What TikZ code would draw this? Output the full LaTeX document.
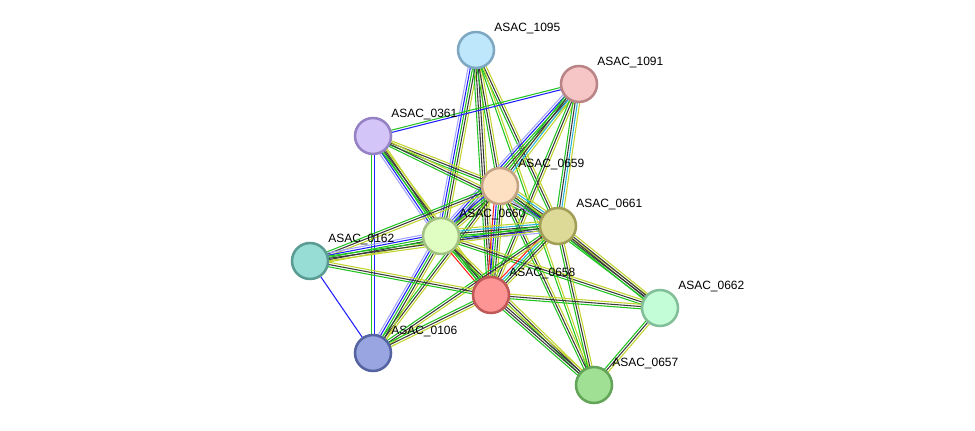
\documentclass[tikz,border=0pt]{standalone}
\usepackage{fontspec}
\setmainfont{Liberation Sans}
\usetikzlibrary{calc}

\definecolor{gn}{HTML}{22C422}
\definecolor{bk}{HTML}{3A3A3A}
\definecolor{yg}{HTML}{C2D42E}
\definecolor{bl}{HTML}{2020FF}
\definecolor{lv}{HTML}{A4A4FF}
\definecolor{rd}{HTML}{FF2020}
\definecolor{cy}{HTML}{28B4DC}

\pgfdeclarelayer{bg}
\pgfsetlayers{bg,main}

% Bundle of parallel evidence lines between two proteins
\newcommand\evlink[3]{%
	\foreach \c [count=\n] in {#3} {\xdef\nlines{\n}}%
	\foreach \c [count=\i] in {#3} {%
		\pgfmathsetmacro\off{(\i - (\nlines + 1) / 2) * 1.7}
		\draw [\c, line width = 0.8pt] ($(#1.center)!\off pt!90:(#2.center)$) -- ($(#2.center)!\off pt!-90:(#1.center)$);
	}%
}

\begin{document}
\begin{tikzpicture}[x = 0.75pt, y = -0.75pt,
	prot/.style = {circle, line width = 1.9pt, minimum size = 27pt, inner sep = 0pt},
	lab/.style = {anchor = west, inner sep = 0pt, font = \fontsize{9}{10}\selectfont}]

	\useasboundingbox (0, 0) rectangle (975, 431);

	% Proteins

	\node [prot, fill = {rgb,255:red,191;green,231;blue,251}, draw = {rgb,255:red,126;green,168;blue,194}] (p1095) at (476, 50) {};
	\node [prot, fill = {rgb,255:red,246;green,197;blue,198}, draw = {rgb,255:red,184;green,132;blue,134}] (p1091) at (579, 84) {};
	\node [prot, fill = {rgb,255:red,211;green,197;blue,247}, draw = {rgb,255:red,149;green,130;blue,197}] (p0361) at (373, 136) {};
	\node [prot, fill = {rgb,255:red,253;green,223;blue,194}, draw = {rgb,255:red,196;green,163;blue,132}] (p0659) at (500, 186) {};
	\node [prot, fill = {rgb,255:red,224;green,253;blue,194}, draw = {rgb,255:red,164;green,193;blue,132}] (p0660) at (441, 236) {};
	\node [prot, fill = {rgb,255:red,221;green,218;blue,152}, draw = {rgb,255:red,162;green,158;blue,88}] (p0661) at (558, 226) {};
	\node [prot, fill = {rgb,255:red,152;green,221;blue,213}, draw = {rgb,255:red,90;green,156;blue,148}] (p0162) at (310, 261) {};
	\node [prot, fill = {rgb,255:red,253;green,149;blue,149}, draw = {rgb,255:red,192;green,88;blue,88}] (p0658) at (491, 295) {};
	\node [prot, fill = {rgb,255:red,194;green,253;blue,216}, draw = {rgb,255:red,130;green,190;blue,152}] (p0662) at (660, 308) {};
	\node [prot, fill = {rgb,255:red,153;green,165;blue,224}, draw = {rgb,255:red,85;green,99;blue,160}] (p0106) at (373, 353) {};
	\node [prot, fill = {rgb,255:red,160;green,224;blue,149}, draw = {rgb,255:red,98;green,164;blue,88}] (p0657) at (594, 385) {};

	% Names

	\foreach \p in {1095, 1091, 0361, 0659, 0660, 0661, 0162, 0658, 0662, 0106, 0657}
		\node [lab] (t\p) at ($(p\p) + (18, -21)$) {ASAC\_\p};

	% Evidence lines

	\begin{pgfonlayer}{bg}
		\evlink{p1095}{p0660}{lv, bl, gn, bk, yg}
		\evlink{p1095}{p0658}{gn, bk, bk, yg}
		\evlink{p1095}{p0659}{gn, bk, yg}
		\evlink{p1095}{p0661}{gn, bk, yg}
		\evlink{p1095}{p0657}{gn, yg}
		\evlink{p1091}{p0361}{gn, bl}
		\evlink{p1091}{p0660}{lv, bl, gn, bk, yg}
		\evlink{p1091}{p0659}{gn, bk, cy, yg}
		\evlink{p1091}{p0658}{gn, bk, yg}
		\evlink{p1091}{p0661}{gn, bk, cy, yg}
		\evlink{p0361}{p0106}{gn, bl}
		\evlink{p0361}{p0660}{lv, bl, gn, bk, yg}
		\evlink{p0361}{p0659}{gn, bk, yg}
		\evlink{p0361}{p0661}{gn, bk, yg}
		\evlink{p0361}{p0658}{gn, bk, yg}
		\evlink{p0659}{p0660}{lv, bl, gn, bk, yg}
		\evlink{p0659}{p0661}{lv, bl, gn, bk, cy, yg}
		\evlink{p0659}{p0658}{rd, bl, gn, bk, yg}
		\evlink{p0659}{p0162}{gn, bk, yg}
		\evlink{p0659}{p0106}{gn, bk, yg}
		\evlink{p0659}{p0657}{gn, bk, yg}
		\evlink{p0659}{p0662}{gn, bk, yg}
		\evlink{p0660}{p0661}{lv, bl, gn, bk, cy, yg}
		\evlink{p0660}{p0162}{lv, bl, gn, bk, yg}
		\evlink{p0660}{p0658}{rd, gn, bk, yg}
		\evlink{p0660}{p0106}{lv, bl, gn, bk, yg}
		\evlink{p0660}{p0662}{gn, bk, yg}
		\evlink{p0660}{p0657}{gn, bk, yg}
		\evlink{p0661}{p0658}{rd, cy, gn, bk, yg}
		\evlink{p0661}{p0162}{gn, bk, yg}
		\evlink{p0661}{p0662}{gn, bk, bk, yg}
		\evlink{p0661}{p0657}{gn, bk, yg}
		\evlink{p0661}{p0106}{gn, bk, yg}
		\evlink{p0162}{p0106}{bl}
		\evlink{p0162}{p0658}{gn, bk, yg}
		\evlink{p0658}{p0106}{gn, bk, yg}
		\evlink{p0658}{p0662}{gn, bk, yg}
		\evlink{p0658}{p0657}{gn, bk, bk, yg}
		\evlink{p0662}{p0657}{gn, bk, yg}
	\end{pgfonlayer}

\end{tikzpicture}
\end{document}
